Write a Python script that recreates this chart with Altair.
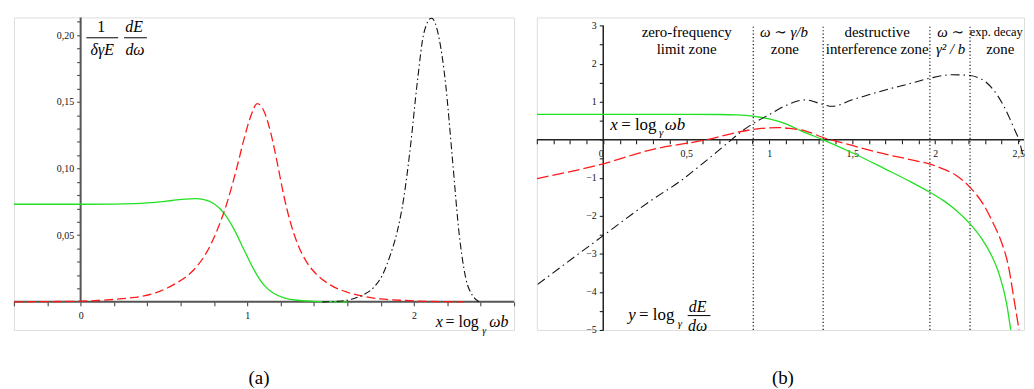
import altair as alt
import pandas as pd

FONT = "Liberation Serif, Times New Roman, DejaVu Serif, serif"

# ---------------- panel (a) data ----------------
a_green_x = [-0.4, 0.0, 0.2, 0.32, 0.45, 0.55, 0.63, 0.69, 0.74, 0.80, 0.86, 0.92, 0.98, 1.04,
             1.10, 1.16, 1.22, 1.30, 1.40, 1.50, 1.60]
a_green_y = [0.0732, 0.0732, 0.0733, 0.0737, 0.0746, 0.0760, 0.0771, 0.0774, 0.0766, 0.0735,
             0.0665, 0.0545, 0.0390, 0.0240, 0.0125, 0.0062, 0.0030, 0.0012, 0.0004, 0.0001, 0.0]

a_red_x = [-0.4, -0.2, 0.0, 0.1, 0.22, 0.3, 0.38, 0.45, 0.52, 0.58, 0.64, 0.7, 0.76, 0.82, 0.88,
           0.94, 0.98, 1.02, 1.06, 1.10, 1.14, 1.18, 1.22, 1.26, 1.30, 1.36, 1.42, 1.5, 1.6, 1.7,
           1.8, 1.95, 2.1, 2.3]
a_red_y = [0.0, 0.0002, 0.0005, 0.001, 0.002, 0.003, 0.0045, 0.0068, 0.0104, 0.0145, 0.0195,
           0.027, 0.038, 0.054, 0.075, 0.102, 0.122, 0.139, 0.1486, 0.143, 0.127, 0.104, 0.079,
           0.059, 0.044, 0.029, 0.020, 0.0125, 0.0072, 0.0040, 0.0022, 0.0010, 0.0003, 0.0]

a_black_x = [1.45, 1.55, 1.63, 1.7, 1.76, 1.81, 1.86, 1.9, 1.94, 1.98, 2.02, 2.06, 2.105, 2.15,
             2.19, 2.23, 2.27, 2.31, 2.35, 2.39]
a_black_y = [0.0, 0.0005, 0.0022, 0.0055, 0.011, 0.020, 0.036, 0.053, 0.079, 0.118, 0.165,
             0.202, 0.2128, 0.198, 0.163, 0.108, 0.052, 0.018, 0.005, 0.0]

a_xticks = [round(i * 0.2, 1) for i in range(-2, 14)]
a_yticks = [round(i * 0.01, 2) for i in range(1, 22)]

# ---------------- panel (b) data ----------------
b_green_x = [-0.4, 0.0, 0.5, 0.7, 0.8, 0.86, 0.92, 1.0, 1.1, 1.2, 1.325, 1.5, 1.7, 1.85, 1.968,
             2.05, 2.12, 2.21, 2.28, 2.34, 2.39, 2.43, 2.455]
b_green_y = [0.67, 0.67, 0.67, 0.665, 0.655, 0.64, 0.61, 0.55, 0.42, 0.22, 0.0, -0.34, -0.77,
             -1.10, -1.38, -1.60, -1.83, -2.21, -2.60, -3.05, -3.60, -4.30, -5.0]

b_red_x = [-0.4, 0.0, 0.3, 0.62, 0.8, 0.9, 1.0, 1.05, 1.12, 1.22, 1.325, 1.5, 1.7, 1.85, 1.968,
           2.05, 2.12, 2.21, 2.29, 2.35, 2.40, 2.44, 2.475, 2.505]
b_red_y = [-1.02, -0.63, -0.25, 0.0, 0.19, 0.27, 0.315, 0.32, 0.30, 0.23, 0.06, -0.15, -0.38,
           -0.52, -0.64, -0.77, -0.92, -1.25, -1.70, -2.20, -2.70, -3.30, -4.20, -5.0]

b_black_x = [-0.395, 0.0, 0.3, 0.46, 0.6, 0.75, 0.84, 0.90, 1.0, 1.1, 1.22, 1.3, 1.38, 1.5, 1.7,
             1.85, 1.968, 2.1, 2.21, 2.26, 2.31, 2.37, 2.414, 2.45, 2.48, 2.504, 2.53]
b_black_y = [-3.8, -2.52, -1.56, -1.10, -0.62, -0.08, 0.24, 0.42, 0.66, 0.90, 1.05, 0.96, 0.88,
             1.05, 1.31, 1.48, 1.62, 1.71, 1.69, 1.63, 1.50, 1.20, 0.88, 0.55, 0.25, 0.0, -0.45]

b_zone_x = [0.904, 1.325, 1.968, 2.21]
b_zone_ylo = [-5.0] * 4
b_zone_yhi = [3.0] * 4

b_xticks = [round(i * 0.1, 1) for i in range(-4, 26)]
b_yticks = [round(i * 0.5, 1) for i in range(-10, 7)]

# ---------------- geometry ----------------
A_W, A_H = 504, 315
A_XDOM = [-0.4, 2.6]
A_YDOM = [-0.0211, 0.2133]
B_W, B_H = 491, 315
B_XDOM = [-0.4, 2.535]
B_YDOM = [-5.0, 3.217]

a_yoff = -A_W * (0 - A_XDOM[0]) / (A_XDOM[1] - A_XDOM[0])
a_xoff = -A_H * (0 - A_YDOM[0]) / (A_YDOM[1] - A_YDOM[0])
b_yoff = -B_W * (0 - B_XDOM[0]) / (B_XDOM[1] - B_XDOM[0])
b_xoff = -B_H * (0 - B_YDOM[0]) / (B_YDOM[1] - B_YDOM[0])

A_AX = "#555555"
B_AX = "#222222"


def axis_common(color, tw):
    return dict(domain=False, grid=False, title=None, tickSize=4, tickColor=color,
                tickWidth=tw, labelFont=FONT, labelFontSize=10, labelColor="#111111",
                labelOverlap=False, labelFlush=False, labelBound=False)


def ax_x_a():
    return alt.X("x:Q", scale=alt.Scale(domain=A_XDOM, nice=False, zero=False),
                 axis=alt.Axis(values=a_xticks, offset=a_xoff, labelPadding=5,
                               labelExpr="abs(datum.value - round(datum.value)) < 0.001 ? format(datum.value, 'd') : ''",
                               **axis_common(A_AX, 1.2)))


def ax_y_a():
    return alt.Y("y:Q", scale=alt.Scale(domain=A_YDOM, nice=False, zero=False),
                 axis=alt.Axis(values=a_yticks, offset=a_yoff, labelPadding=3,
                               labelExpr="abs(datum.value*20 - round(datum.value*20)) < 0.001 ? replace(format(datum.value, '.2f'), '.', ',') : ''",
                               **axis_common(A_AX, 1.2)))


def ax_x_b():
    return alt.X("x:Q", scale=alt.Scale(domain=B_XDOM, nice=False, zero=False),
                 axis=alt.Axis(values=b_xticks, offset=b_xoff, labelPadding=5,
                               labelAlign={"condition": {"test": "datum.value == 0", "value": "right"}, "value": "center"},
                               labelExpr="abs(datum.value*2 - round(datum.value*2)) < 0.001 ? replace(format(datum.value, '~g'), '.', ',') : ''",
                               **axis_common(B_AX, 1.1)))


def ax_y_b():
    return alt.Y("y:Q", scale=alt.Scale(domain=B_YDOM, nice=False, zero=False),
                 axis=alt.Axis(values=b_yticks, offset=b_yoff, labelPadding=3,
                               labelExpr="datum.value != 0 && abs(datum.value - round(datum.value)) < 0.001 ? format(datum.value, 'd') : ''",
                               **axis_common(B_AX, 1.1)))


def curve(xs, ys, color, width, xenc, yenc, dash=None):
    kw = dict(color=color, strokeWidth=width, clip=True, interpolate="monotone")
    if dash is not None:
        kw["strokeDash"] = dash
    return alt.Chart(pd.DataFrame({"x": xs, "y": ys})).mark_line(**kw).encode(x=xenc, y=yenc)


def hrule(x1, x2, y, color, width, xenc, yenc):
    df = pd.DataFrame({"x": [x1], "x2": [x2], "y": [y]})
    return alt.Chart(df).mark_rule(color=color, strokeWidth=width).encode(x=xenc, x2="x2:Q", y=yenc)


def vrule(x, y1, y2, color, width, xenc, yenc):
    df = pd.DataFrame({"x": [x], "y": [y1], "y2": [y2]})
    return alt.Chart(df).mark_rule(color=color, strokeWidth=width).encode(x=xenc, y=yenc, y2="y2:Q")


def label(text, px, py, size=15, italic=False, align="center", baseline="middle"):
    kw = dict(text=text, font=FONT, fontSize=size, color="black", align=align, baseline=baseline)
    if italic:
        kw["fontStyle"] = "italic"
    return alt.Chart(pd.DataFrame({"t": [0]})).mark_text(**kw).encode(x=alt.value(px), y=alt.value(py))


def bar(px1, px2, py):
    return alt.Chart(pd.DataFrame({"t": [0]})).mark_rule(color="black", strokeWidth=1).encode(
        x=alt.value(px1), x2=alt.value(px2), y=alt.value(py))


GREEN = "#22e022"
RED = "#ff1a1a"
BLACK = "#111111"

# ---------------- panel (a) ----------------
a_layers = [
    hrule(A_XDOM[0], A_XDOM[1], 0.0, A_AX, 2, ax_x_a(), ax_y_a()),
    vrule(0.0, 0.0, A_YDOM[1], A_AX, 2, ax_x_a(), ax_y_a()),
    curve(a_green_x, a_green_y, GREEN, 1.3, ax_x_a(), ax_y_a()),
    curve(a_red_x, a_red_y, RED, 1.3, ax_x_a(), ax_y_a(), dash=[9, 4]),
    curve(a_black_x, a_black_y, BLACK, 1.1, ax_x_a(), ax_y_a(), dash=[7, 3, 1.5, 3]),
    label("1", 88, 10, size=16),
    bar(73, 105, 20.5),
    label("δγE", 89, 33, size=16, italic=True),
    label("dE", 121, 10, size=16, italic=True),
    bar(111, 134, 20.5),
    label("dω", 122, 33, size=16, italic=True),
    label("x", 425, 312, size=16, italic=True, align="left", baseline="alphabetic"),
    label("= log", 435, 312, size=16, align="left", baseline="alphabetic"),
    label("γ", 472, 319, size=10, italic=True, align="left", baseline="alphabetic"),
    label("ωb", 479, 312, size=16, italic=True, align="left", baseline="alphabetic"),
    label("(a)", 247, 363, size=19),
]
panel_a = alt.layer(*a_layers).properties(width=A_W, height=A_H)

# ---------------- panel (b) ----------------
b_layers = [
    hrule(B_XDOM[0], B_XDOM[1], 0.0, B_AX, 1.5, ax_x_b(), ax_y_b()),
    vrule(0.0, -5.0, 3.0, B_AX, 1.5, ax_x_b(), ax_y_b()),
]
for zx, zlo, zhi in zip(b_zone_x, b_zone_ylo, b_zone_yhi):
    df = pd.DataFrame({"x": [zx], "y": [zlo], "y2": [zhi]})
    b_layers.append(alt.Chart(df).mark_rule(color="#222222", strokeWidth=1.3, strokeDash=[1.2, 2.3])
                    .encode(x=ax_x_b(), y=ax_y_b(), y2="y2:Q"))
b_layers += [
    curve(b_green_x, b_green_y, GREEN, 1.3, ax_x_b(), ax_y_b()),
    curve(b_red_x, b_red_y, RED, 1.3, ax_x_b(), ax_y_b(), dash=[12, 4]),
    curve(b_black_x, b_black_y, BLACK, 1.1, ax_x_b(), ax_y_b(), dash=[9, 4, 1.5, 4]),
    label("zero-frequency", 151, 15, size=15),
    label("limit zone", 151, 32, size=15),
    label("ω ∼ γ/b", 249, 15, size=15, italic=True),
    label("zone", 250, 32, size=15),
    label("destructive", 343, 15, size=15),
    label("interference zone", 343, 32, size=15),
    label("ω ∼", 417, 15, size=15, italic=True),
    label("γ² / b", 417, 32, size=15, italic=True),
    label("exp. decay", 463, 15, size=12.5),
    label("zone", 467, 32, size=15),
    label("x", 74, 113, size=17, italic=True, align="left", baseline="alphabetic"),
    label("= log", 85, 113, size=17, align="left", baseline="alphabetic"),
    label("γ", 123, 120, size=11, italic=True, align="left", baseline="alphabetic"),
    label("ωb", 129, 113, size=17, italic=True, align="left", baseline="alphabetic"),
    label("y", 92, 305, size=17, italic=True, align="left", baseline="alphabetic"),
    label("= log", 103, 305, size=17, align="left", baseline="alphabetic"),
    label("γ", 142, 312, size=11, italic=True, align="left", baseline="alphabetic"),
    label("dE", 162, 292, size=16, italic=True),
    bar(152, 175, 300.5),
    label("dω", 162, 311, size=16, italic=True),
    label("(b)", 248, 363, size=19),
]
panel_b = alt.layer(*b_layers).properties(width=B_W, height=B_H)

chart = (
    alt.hconcat(panel_a, panel_b, spacing=19)
    .properties(padding={"left": 4, "top": 6, "right": 0, "bottom": 0})
    .configure_view(strokeWidth=0)
    .configure(font=FONT)
)

chart.save("out.html", embed_options={"renderer": "svg", "actions": False})
